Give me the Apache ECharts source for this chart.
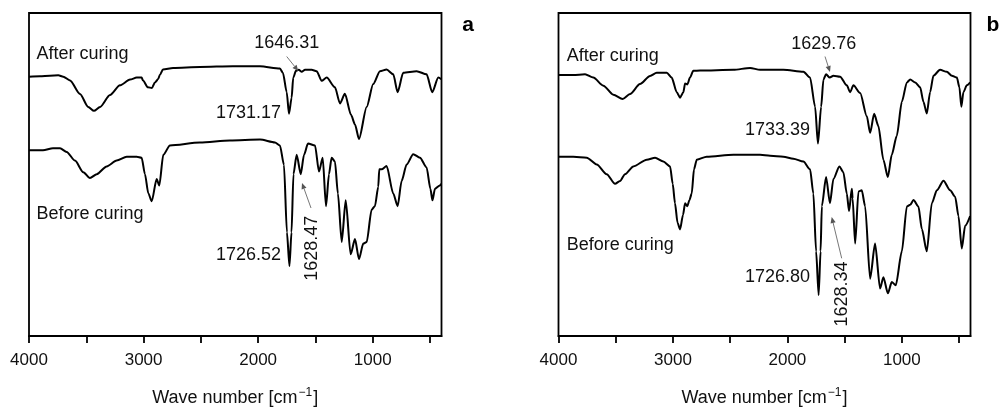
<!DOCTYPE html>
<html>
<head>
<meta charset="utf-8">
<script src="https://cdn.jsdelivr.net/npm/echarts@6/dist/echarts.min.js"></script>
<style>
html,body{margin:0;padding:0;background:#fff;}
#c{width:1008px;height:412px;}
</style>
</head>
<body>
<div id="c"></div>
<script>
// ---- data: [wave number (cm^-1), relative transmittance] ----
const leftAfter = [[4000,80.3],[3904,80.4],[3817,80.6],[3744,80.7],[3701,80.3],[3642,79.1],[3555,74.9],[3483,70.9],[3433,69.7],[3380,70.9],[3293,74.6],[3206,77.6],[3118,79.4],[3060,80.0],[3017,80.0],[3005,79.1],[2962,77.0],[2927,76.8],[2901,78.5],[2874,79.5],[2857,80.9],[2831,82.5],[2743,83.0],[2508,83.3],[2220,83.5],[1984,83.5],[1810,82.8],[1784,81.5],[1751,75.5],[1731,68.8],[1708,73.8],[1694,80.0],[1670,82.1],[1646,82.4],[1620,81.8],[1591,82.4],[1533,82.4],[1490,82.0],[1446,79.0],[1402,80.0],[1330,77.0],[1286,72.0],[1243,75.0],[1190,68.5],[1155,65.5],[1120,61.0],[1053,70.9],[996,78.0],[937,82.0],[879,82.5],[821,81.0],[783,75.5],[734,81.5],[617,82.0],[530,81.0],[481,75.5],[428,80.0],[402,79.5]];
const leftBefore = [[4000,57.5],[3878,57.5],[3791,58.1],[3729,58.1],[3671,57.0],[3599,54.3],[3526,50.7],[3468,48.9],[3409,50.1],[3322,52.5],[3235,54.3],[3147,55.5],[3060,55.5],[3017,55.2],[2988,50.1],[2959,44.2],[2929,41.7],[2886,48.6],[2863,46.6],[2828,56.1],[2770,59.0],[2508,59.9],[2246,60.5],[1984,60.8],[1853,59.9],[1810,59.0],[1775,53.0],[1749,32.1],[1727,21.7],[1709,32.1],[1692,50.1],[1664,56.1],[1628,50.1],[1600,56.1],[1565,59.6],[1504,59.0],[1469,50.9],[1437,55.2],[1408,40.2],[1382,50.1],[1359,55.2],[1330,54.0],[1304,44.1],[1271,29.1],[1236,42.0],[1193,25.3],[1155,30.0],[1120,23.8],[1083,28.6],[1053,29.1],[1010,39.1],[981,40.2],[952,46.2],[943,51.6],[922,51.6],[879,52.6],[821,44.1],[783,40.2],[748,48.0],[704,53.1],[647,56.3],[588,55.2],[530,52.2],[497,45.6],[479,42.0],[457,45.6],[414,46.6],[402,47.1]];
const rightAfter = [[4000,80.8],[3871,80.8],[3768,81.0],[3696,80.0],[3608,77.5],[3521,74.7],[3439,73.4],[3375,74.9],[3288,78.0],[3200,80.5],[3142,81.5],[3054,81.5],[3011,80.0],[2967,75.5],[2938,73.8],[2909,75.5],[2894,78.2],[2874,77.9],[2851,80.0],[2822,82.1],[2763,82.2],[2472,82.4],[2326,83.0],[2239,82.4],[2035,82.4],[1860,81.8],[1802,80.0],[1758,71.0],[1733,59.6],[1705,71.0],[1685,79.4],[1662,81.0],[1630,80.0],[1598,80.6],[1539,80.3],[1481,77.6],[1452,75.5],[1423,77.6],[1364,75.2],[1306,68.0],[1277,62.9],[1242,68.8],[1205,65.0],[1161,54.5],[1122,49.2],[1088,56.1],[1044,62.0],[1000,72.5],[956,78.5],[927,79.4],[883,78.5],[840,77.0],[811,72.5],[782,68.9],[753,75.5],[724,80.6],[666,82.4],[607,81.8],[563,80.6],[519,80.0],[497,77.0],[480,71.0],[462,75.5],[432,77.6],[403,78.5]];
const rightBefore = [[4000,55.5],[3871,55.5],[3753,55.2],[3666,53.1],[3579,50.1],[3506,47.1],[3462,48.0],[3419,50.1],[3346,52.5],[3229,54.6],[3156,55.2],[3084,54.0],[3025,52.5],[3002,47.1],[2982,41.1],[2960,35.1],[2938,33.0],[2912,37.5],[2894,41.1],[2874,40.2],[2857,42.0],[2836,44.1],[2816,51.6],[2792,54.6],[2705,55.5],[2472,56.1],[2239,56.1],[2151,55.8],[2035,55.5],[1948,54.9],[1860,54.0],[1802,51.6],[1773,44.1],[1749,26.2],[1727,12.7],[1710,26.2],[1699,40.2],[1662,49.2],[1628,41.1],[1598,48.6],[1546,52.5],[1511,50.7],[1481,44.1],[1461,38.7],[1437,45.6],[1430,42.6],[1408,28.6],[1379,44.7],[1350,45.1],[1321,40.2],[1277,17.7],[1234,28.6],[1190,14.7],[1161,18.2],[1122,13.2],[1088,16.7],[1053,15.7],[1000,26.2],[956,40.1],[927,40.6],[898,42.1],[855,40.1],[825,33.1],[782,26.2],[738,41.1],[694,45.1],[636,48.1],[578,45.1],[534,43.1],[505,37.1],[476,27.1],[447,34.1],[403,37.1]];
const tickValues = [4000,3500,3000,2500,2000,1500,1000,500];
const labelValues = [4000,3000,2000,1000];
const seriesNames = ['After curing','Before curing'];
const peakLabelsA = ['1646.31','1731.17','1726.52','1628.47'];
const peakLabelsB = ['1629.76','1733.39','1726.80','1628.34'];

const FONT = '"Liberation Sans", Arial, Helvetica, sans-serif';
const chart = echarts.init(document.getElementById('c'), null, {renderer:'canvas'});

function xAxisFor(gi){
  return {
    gridIndex: gi, type:'value', inverse:true, min:400, max:4000,
    axisLine:{show:true, onZero:false, lineStyle:{color:'#000', width:1.8}},
    axisTick:{show:true, customValues:tickValues, length:7, inside:false, lineStyle:{color:'#000', width:1.8}},
    axisLabel:{show:true, customValues:labelValues, margin:16, fontSize:17, color:'#111', fontFamily:FONT,
      formatter:function(v){return String(v);}},
    splitLine:{show:false},
    name:'{a|Wave number [cm}{s|−1}{a|]}',
    nameLocation:'middle', nameGap:51,
    nameTextStyle:{rich:{
      a:{fontSize:18, color:'#111', fontFamily:FONT},
      s:{fontSize:12, color:'#111', fontFamily:FONT, verticalAlign:'top', padding:[0,1,10,1]}
    }}
  };
}
function yAxisFor(gi){
  return {gridIndex:gi, type:'value', min:0, max:100,
    axisLine:{show:false}, axisTick:{show:false}, axisLabel:{show:false}, splitLine:{show:false}};
}
function lineSeries(name, data, gi){
  return {name, type:'line', xAxisIndex:gi, yAxisIndex:gi, data, showSymbol:false,
    smooth:0.25, smoothMonotone:'x',
    lineStyle:{color:'#000', width:2}, itemStyle:{color:'#000'}, z:3, silent:true};
}

function txt(text, x, y, align, opts){
  opts = opts || {};
  return {type:'text', x:x, y:y, rotation:opts.rot||0, silent:true, z:10,
    style:{text:text, x:0, y:0, textAlign:align, textVerticalAlign:'middle',
      font:(opts.weight||'normal')+' '+(opts.size||18)+'px '+FONT, fill:opts.color||'#111'}};
}
function arrow(x1,y1,x2,y2){
  const ang = Math.atan2(y2-y1, x2-x1), L=6, W=2.6;
  const bx = x2 - L*Math.cos(ang), by = y2 - L*Math.sin(ang);
  const px = -Math.sin(ang)*W, py = Math.cos(ang)*W;
  return [
    {type:'line', silent:true, z:10, shape:{x1:x1,y1:y1,x2:bx,y2:by}, style:{stroke:'#777', lineWidth:1}},
    {type:'polygon', silent:true, z:10, shape:{points:[[x2,y2],[bx+px,by+py],[bx-px,by-py]]}, style:{fill:'#555'}}
  ];
}

const graphics = [
  txt(seriesNames[0], 36.5, 54, 'left'),
  txt(peakLabelsA[0], 286.7, 42.7, 'center'),
  ...arrow(286.7,56.5,298.3,71),
  txt(peakLabelsA[1], 281, 112.7, 'right'),
  txt(seriesNames[1], 36.5, 214, 'left'),
  txt(peakLabelsA[2], 281, 255, 'right'),
  txt(peakLabelsA[3], 311.7, 248.3, 'center', {rot:Math.PI/2}),
  ...arrow(311,208,302,183),
  txt('a', 468, 25, 'center', {weight:'bold', size:21, color:'#000'}),

  txt(seriesNames[0], 566.7, 56, 'left'),
  txt(peakLabelsB[0], 823.7, 44.3, 'center'),
  ...arrow(825,56.5,830,72),
  txt(peakLabelsB[1], 810, 130, 'right'),
  txt(seriesNames[1], 566.7, 245, 'left'),
  txt(peakLabelsB[2], 810, 276.7, 'right'),
  txt(peakLabelsB[3], 841.7, 294, 'center', {rot:Math.PI/2}),
  ...arrow(841.7,258.3,831.7,217),
  txt('b', 993, 25, 'center', {weight:'bold', size:21, color:'#000'})
];

chart.setOption({
  animation:false,
  backgroundColor:'#fff',
  textStyle:{fontFamily:FONT},
  grid:[
    {left:29, top:13, width:412.5, height:334.5, show:true, borderColor:'#000', borderWidth:1.8, backgroundColor:'transparent'},
    {left:558.5, top:13, width:412, height:335, show:true, borderColor:'#000', borderWidth:1.8, backgroundColor:'transparent'}
  ],
  xAxis:[xAxisFor(0), xAxisFor(1)],
  yAxis:[yAxisFor(0), yAxisFor(1)],
  series:[
    lineSeries(seriesNames[0]+' (a)', leftAfter, 0),
    lineSeries(seriesNames[1]+' (a)', leftBefore, 0),
    lineSeries(seriesNames[0]+' (b)', rightAfter, 1),
    lineSeries(seriesNames[1]+' (b)', rightBefore, 1)
  ],
  graphic: graphics
});
</script>
</body>
</html>
